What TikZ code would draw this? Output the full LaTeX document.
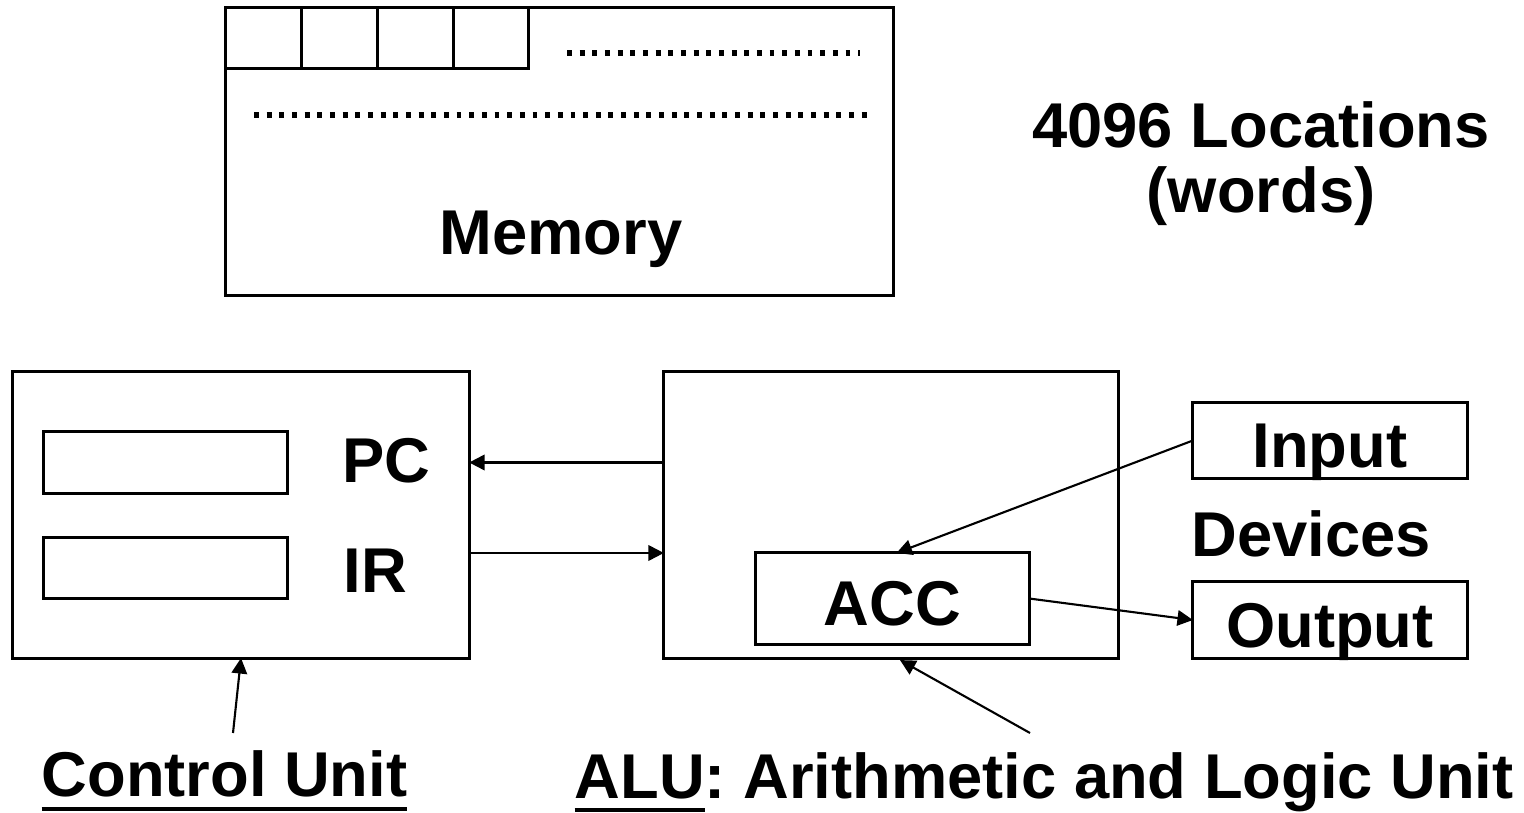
\documentclass[tikz,border=0pt]{standalone}
\usepackage{fontspec}
\setmainfont{Liberation Sans}
\usepackage{tikz}
\usetikzlibrary{arrows.meta,positioning,calc}
\frenchspacing
\newcommand{\thickul}[1]{\setbox0\hbox{#1}\rlap{\rule[-4.05pt]{\wd0}{1.3pt}}\box0}
\tikzset{
  unit/.style={draw, line width=0.85pt, inner sep=0pt, outer sep=0pt},
  cell/.style={unit, minimum width=0.7575cm, minimum height=0.61cm},
  reg/.style={unit, minimum width=2.43cm, minimum height=0.61cm},
  big/.style={font=\bfseries\fontsize{18}{18.7}\selectfont},
  lbl/.style={big, inner sep=0pt, anchor=base},
  dev/.style={unit, big, text height=15.6pt, text depth=0pt,
    minimum width=2.74cm, minimum height=0.76cm},
  arr/.style={-{Triangle[length=4.4pt,width=4.4pt]}, line width=0.6pt},
  dots/.style={line width=1.5pt, dash pattern=on 1.4pt off 2.2pt}
}

\begin{document}
\begin{tikzpicture}[x=0.01cm, y=-0.01cm]
\useasboundingbox (0,0) rectangle (1524,813);
% ---------- memory
\node[unit, minimum width=6.67cm, minimum height=2.87cm] (mem) at (559.5,151.5) {};
\node[cell, anchor=north west] (cell1) at (mem.north west) {};
\foreach \i [count=\j from 1] in {2,3,4}
  \node[cell, right=0pt of cell\j] (cell\i) {};
\draw[dots] (567,53) -- (860,53);
\draw[dots] (254,115) -- (869,115);
\node[lbl] (memlbl) at (561,255) {Memory};
\node[lbl, align=center] (loc) at (1261,213) {4096 Locations\\(words)};

% ---------- control unit
\node[unit, minimum width=4.56cm, minimum height=2.86cm] (cu) at (241,515) {};
\node[reg] (pcreg) at (165.5,462.5) {};
\node[reg] (irreg) at (165.5,568) {};
\node[lbl, anchor=base west] (pc) at (342,483) {PC};
\node[lbl, anchor=base west] (ir) at (343,593) {IR};

% ---------- alu and devices
\node[unit, minimum width=4.54cm, minimum height=2.86cm] (alu) at (891,515) {};
\node[dev, minimum width=2.73cm, minimum height=0.91cm] (acc) at (892.5,598.5) {ACC};
\node[dev] (input) at (1330,440.5) {Input};
\node[dev] (output) at (1330,620) {Output};
\node[lbl] (devices) at (1311,557) {Devices};

\draw[arr] (alu.west |- pcreg) -- (cu.east |- pcreg);
\draw[arr] ($(cu.east)+(0,38)$) -- ($(alu.west)+(0,38)$);
\draw[arr] (input.west) -- ($(acc.north)+(4,0)$);
\draw[arr] (acc.east) -- (output.west);

% ---------- captions
\node[lbl, anchor=base west] (culbl) at (41,797) {\thickul{Control Unit}};
\node[lbl, anchor=base west] (alulbl) at (574,798) {\thickul{ALU}: Arithmetic and Logic Unit};
\coordinate (cutail) at (233,733);
\coordinate (alutail) at (1030,733);
\draw[arr] (cutail) -- (cu.south);
\draw[arr] (alutail) -- ($(alu.south)+(9,2)$);
\end{tikzpicture}
\end{document}
